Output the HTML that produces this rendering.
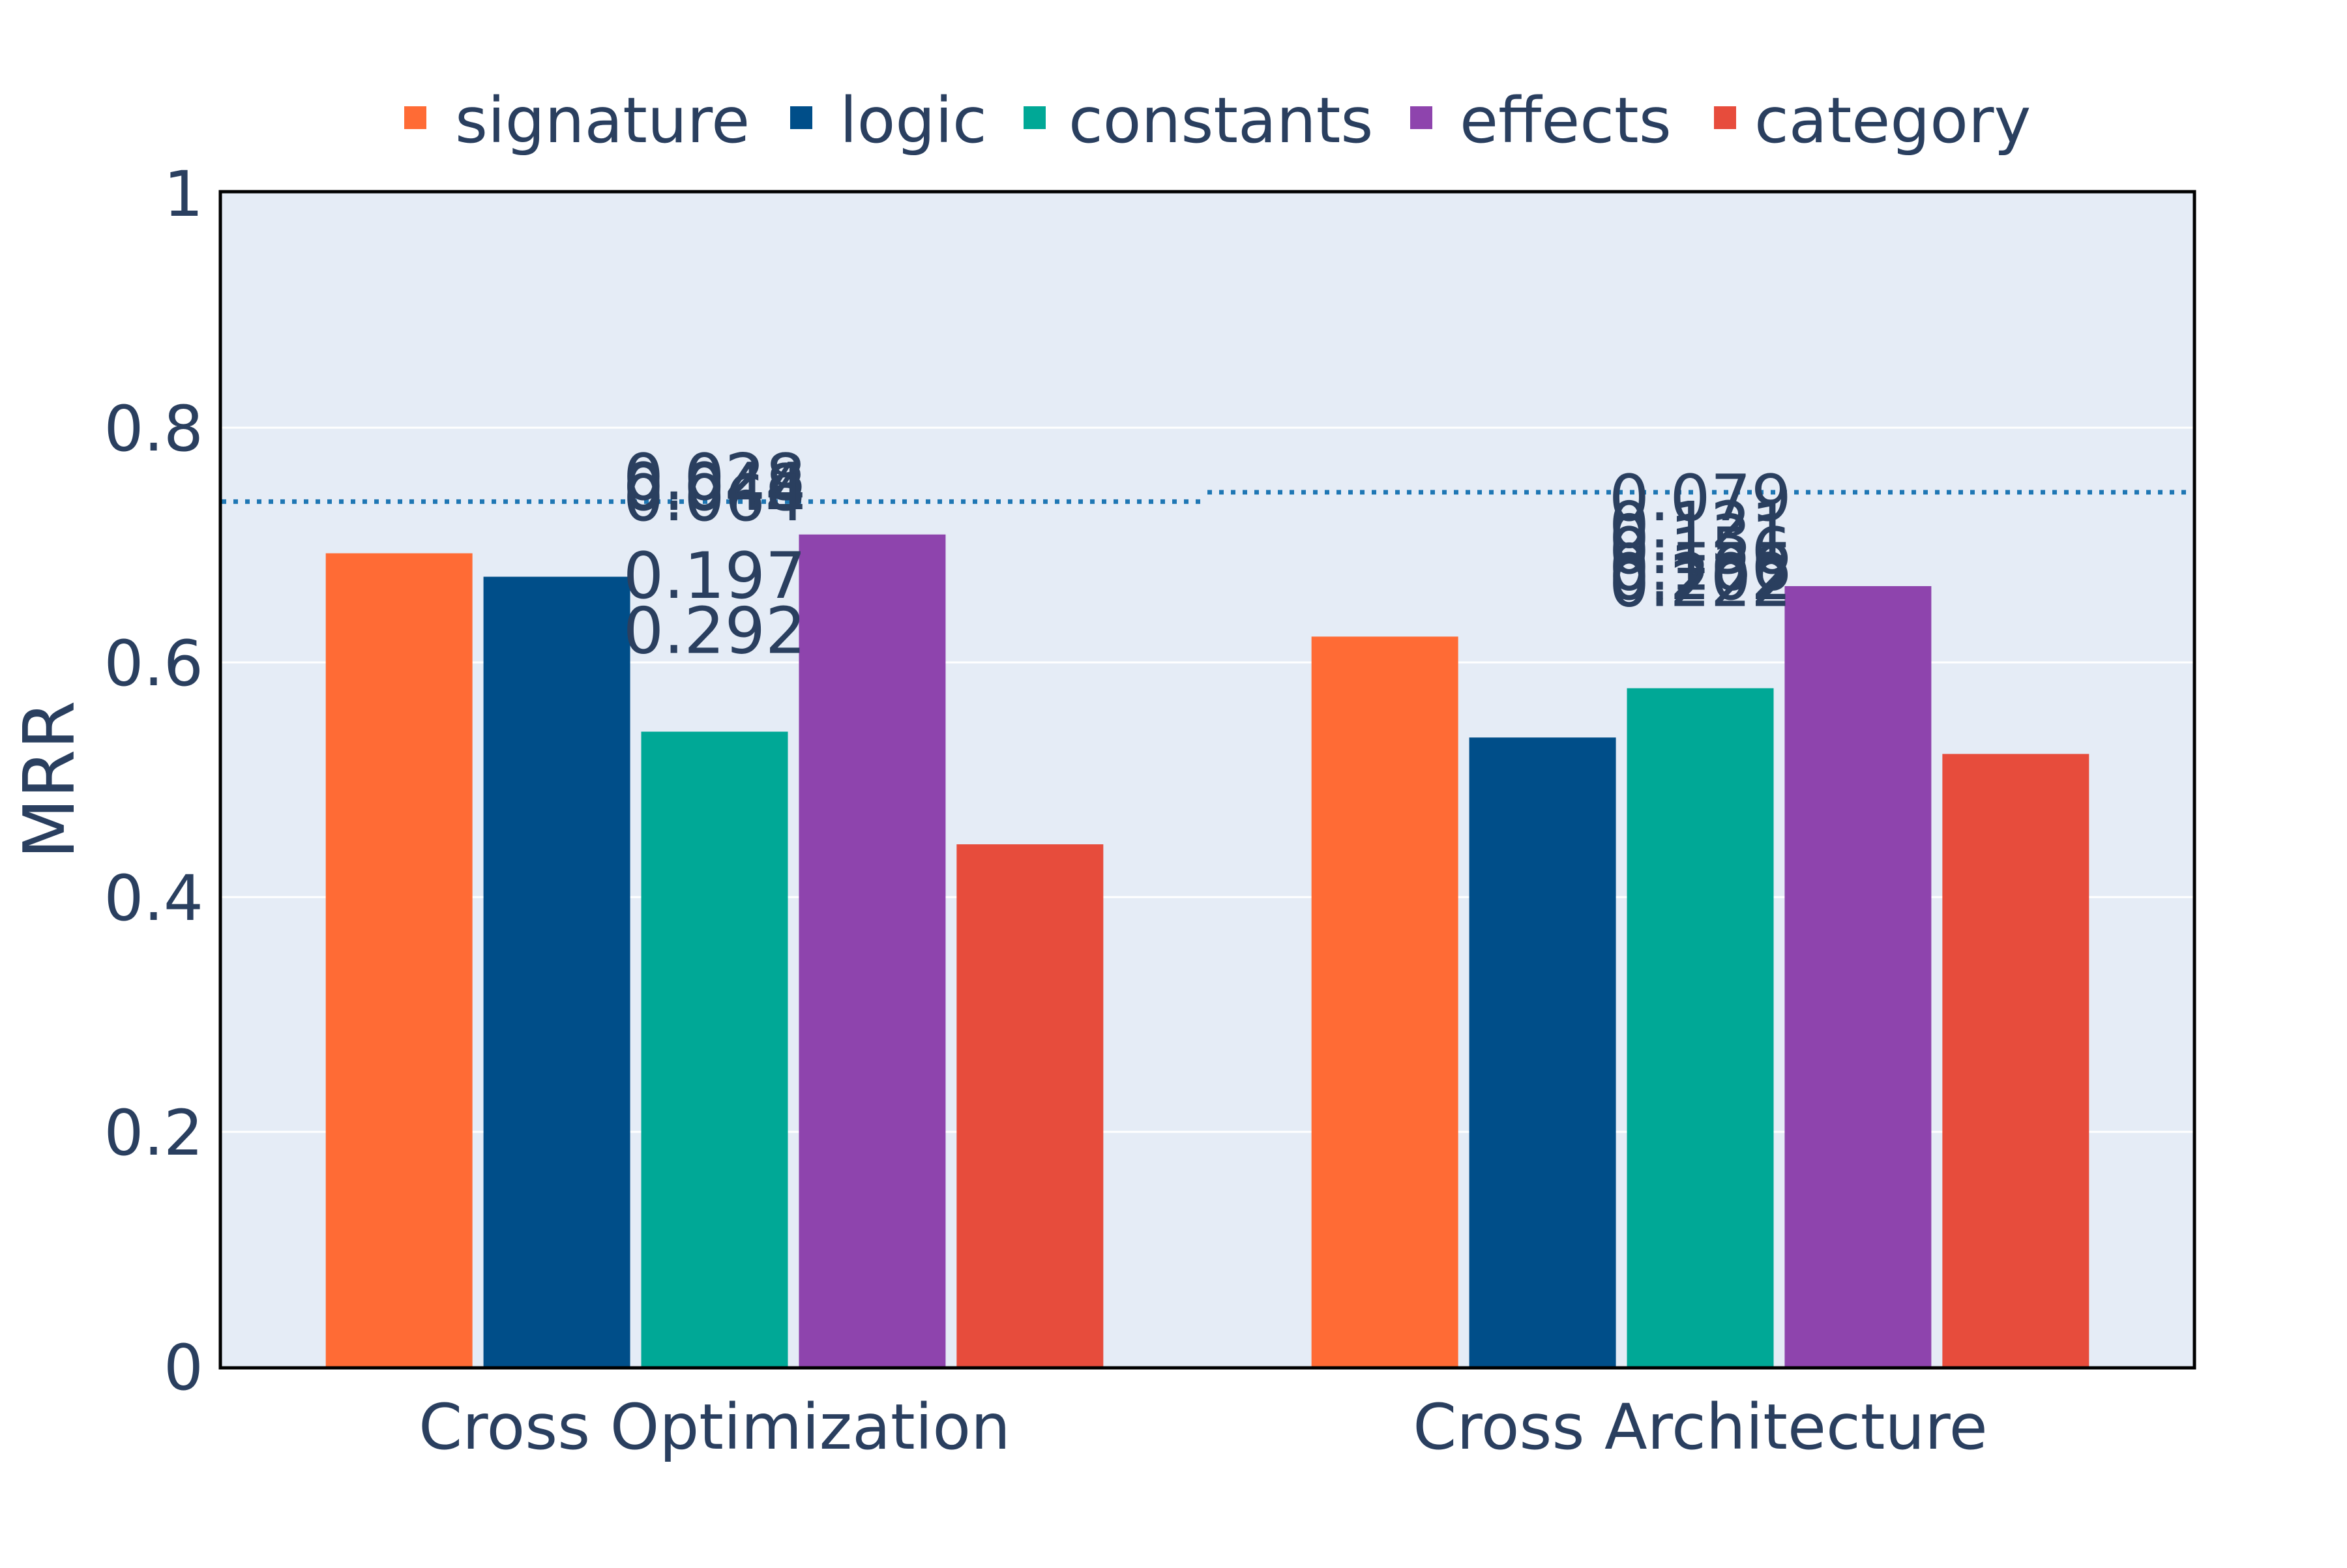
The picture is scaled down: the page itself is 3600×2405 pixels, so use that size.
<!DOCTYPE html>
<html><head><meta charset="utf-8"><style>
html,body{margin:0;padding:0;background:#fff;}
svg text{font-family:"DejaVu Sans","Liberation Sans",sans-serif;fill:#2a3f5f;}
</style></head><body>
<svg id="chart" width="3600" height="2400" viewBox="0 0 3600 2400" xmlns="http://www.w3.org/2000/svg"></svg>
<script>
const categories = ["Cross Optimization", "Cross Architecture"];
const seriesNames = ["signature", "logic", "constants", "effects", "category"];
const signatureVals = [0.693, 0.622];
const logicVals = [0.673, 0.536];
const constantsVals = [0.541, 0.578];
const effectsVals = [0.709, 0.665];
const categoryVals = [0.445, 0.522];
const baselineVals = [0.737, 0.745];
const yTicks = [0, 0.2, 0.4, 0.6, 0.8, 1];
const yTickLabels = ["0", "0.2", "0.4", "0.6", "0.8", "1"];
const annotLabels0 = ["0.028", "0.044", "0.048", "0.064", "0.197", "0.292"];
const annotVals0 = [0.759, 0.751, 0.750, 0.741, 0.675, 0.628];
const annotLabels1 = ["0.079", "0.121", "0.131", "0.156", "0.166", "0.202", "0.222"];
const annotVals1 = [0.741, 0.718, 0.707, 0.696, 0.682, 0.674, 0.668];

const colors = ["#FF6B35", "#004E89", "#00A896", "#8E44AD", "#E74C3C"];
const allVals = [signatureVals, logicVals, constantsVals, effectsVals, categoryVals];
const svg = document.getElementById('chart');
const NS = "http://www.w3.org/2000/svg";
const L = 340, R = 3364, T = 296, B = 2096;
function yScale(v){ return B - v * (B - T); }
const groupW = (R - L) / categories.length;
function xGroup(i){ return L + groupW * (i + 0.5); }
const slot = groupW * 0.8 / seriesNames.length;
const barW = slot * 0.93;
function mk(tag, attrs){ const e = document.createElementNS(NS, tag); for (const k in attrs) e.setAttribute(k, attrs[k]); svg.appendChild(e); return e; }

const bg = mk('rect', {x:L, y:T, width:R-L, height:B-T, fill:'#E5ECF6'});



yTicks.forEach((t, i) => {
  const y = yScale(t);
  if (t > 0 && t < 1) {
    const g = mk('line', {x1:L, x2:R, y1:y, y2:y, stroke:'#fff', 'stroke-width':3});
    
    
  }
  const tx = mk('text', {x:312, y:y+35, 'font-size':96, 'text-anchor':'end'});
  tx.textContent = yTickLabels[i];
  
  
});

categories.forEach((c, gi) => {
  const cx = xGroup(gi);
  allVals.forEach((vals, si) => {
    const x0 = cx - groupW * 0.4 + slot * si + (slot - barW) / 2;
    const y = yScale(vals[gi]);
    const r = mk('rect', {x:x0, y:y, width:barW, height:B - y, fill:colors[si]});
    
    
  });
  const by = yScale(baselineVals[gi]);
  const ln = mk('line', {x1:L + groupW*gi, x2:L + groupW*(gi+1), y1:by, y2:by, stroke:'#1F77B4', 'stroke-width':7, 'stroke-dasharray':'7,11'});
  
  
  const xl = mk('text', {x:cx, y:2222, 'font-size':96, 'text-anchor':'middle'});
  xl.textContent = c;
  
  
});

[[annotLabels0, annotVals0], [annotLabels1, annotVals1]].forEach((pair, gi) => {
  const cx = xGroup(gi);
  pair[0].forEach((lab, k) => {
    const a = mk('text', {x:cx, y:yScale(pair[1][k]) + 36, 'font-size':98, 'text-anchor':'middle'});
    a.textContent = lab;
    
    
  });
});

const frame = mk('rect', {x:L-2, y:T-2, width:R-L+4, height:B-T+4, fill:'none', stroke:'#000', 'stroke-width':5});



const yt = mk('text', {x:0, y:0, 'font-size':108, 'text-anchor':'middle', transform:'translate(113,1196) rotate(-90)'});
yt.textContent = 'MRR';



const legSq = [620, 1212, 1570, 2163, 2629];
const legTx = [698, 1288, 1639, 2239, 2691];
seriesNames.forEach((n, i) => {
  const sq = mk('rect', {x:legSq[i], y:163, width:34, height:35, fill:colors[i]});
  
  
  const t = mk('text', {x:legTx[i], y:218, 'font-size':96});
  t.textContent = n;
  
  
});
</script>
</body></html>
